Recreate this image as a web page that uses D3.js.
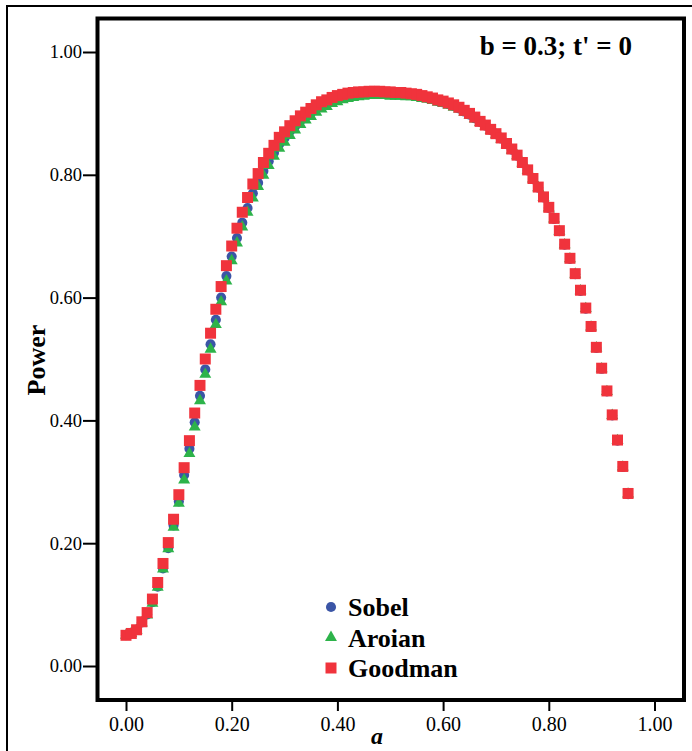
<html>
<head>
    <meta charset="utf-8">
    <title>Power: Sobel, Aroian, Goodman</title>
    <style>
        body { margin: 0; background: #fff; }
    </style>
</head>
<body>
    <script src="https://cdn.jsdelivr.net/npm/d3@7"></script>
    <script>
        var width = 692, height = 751;

        // a values (x)
        const aVals = [0.00, 0.01, 0.02, 0.03, 0.04, 0.05, 0.06, 0.07, 0.08, 0.09,
            0.10, 0.11, 0.12, 0.13, 0.14, 0.15, 0.16, 0.17, 0.18, 0.19,
            0.20, 0.21, 0.22, 0.23, 0.24, 0.25, 0.26, 0.27, 0.28, 0.29,
            0.30, 0.31, 0.32, 0.33, 0.34, 0.35, 0.36, 0.37, 0.38, 0.39,
            0.40, 0.41, 0.42, 0.43, 0.44, 0.45, 0.46, 0.47, 0.48, 0.49,
            0.50, 0.51, 0.52, 0.53, 0.54, 0.55, 0.56, 0.57, 0.58, 0.59,
            0.60, 0.61, 0.62, 0.63, 0.64, 0.65, 0.66, 0.67, 0.68, 0.69,
            0.70, 0.71, 0.72, 0.73, 0.74, 0.75, 0.76, 0.77, 0.78, 0.79,
            0.80, 0.81, 0.82, 0.83, 0.84, 0.85, 0.86, 0.87, 0.88, 0.89,
            0.90, 0.91, 0.92, 0.93, 0.94, 0.95];

        const sobel = [.050, .053, .059, .071, .084, .104, .129, .159, .192, .229,
            .268, .311, .354, .397, .440, .483, .524, .564, .600, .635,
            .667, .697, .722, .746, .770, .787, .806, .822, .836, .850,
            .860, .871, .879, .888, .895, .901, .908, .913, .917, .921,
            .925, .927, .929, .930, .931, .932, .933, .933, .933, .932,
            .932, .931, .931, .930, .930, .929, .927, .925, .923, .920,
            .918, .915, .912, .908, .903, .898, .892, .886, .880, .873,
            .866, .859, .850, .841, .831, .819, .807, .793, .779, .763,
            .746, .728, .708, .686, .663, .638, .611, .582, .552, .518,
            .484, .447, .408, .367, .324, .280];

        const aroian = [.050, .053, .058, .070, .083, .102, .128, .158, .191, .226,
            .265, .303, .346, .389, .432, .475, .516, .556, .593, .627,
            .660, .689, .715, .739, .762, .781, .799, .815, .830, .843,
            .853, .864, .873, .882, .889, .895, .902, .907, .911, .916,
            .919, .922, .924, .926, .927, .928, .929, .929, .929, .929,
            .928, .928, .928, .927, .927, .926, .924, .923, .921, .918,
            .916, .913, .910, .907, .902, .897, .891, .885, .879, .872,
            .865, .858, .849, .840, .831, .819, .807, .793, .779, .763,
            .746, .728, .708, .686, .663, .638, .611, .582, .552, .518,
            .484, .447, .408, .367, .324, .280];

        const goodman = [.050, .053, .059, .072, .087, .109, .136, .167, .201, .239,
            .279, .323, .367, .412, .457, .500, .542, .581, .618, .652,
            .684, .713, .739, .763, .785, .802, .820, .835, .848, .861,
            .870, .880, .888, .896, .902, .908, .914, .919, .922, .926,
            .929, .931, .933, .934, .935, .935, .936, .936, .936, .935,
            .935, .934, .934, .933, .932, .931, .929, .927, .925, .922,
            .920, .917, .914, .910, .905, .900, .894, .887, .881, .874,
            .867, .860, .851, .842, .832, .820, .808, .794, .780, .764,
            .747, .729, .709, .687, .664, .639, .612, .583, .553, .519,
            .485, .448, .409, .368, .325, .281];

        const seriesNames = ["Sobel", "Aroian", "Goodman"];
        const xTicks = [0, 0.2, 0.4, 0.6, 0.8, 1.0];
        const yTicks = [0, 0.2, 0.4, 0.6, 0.8, 1.0];

        const colors = ["#3b55a6", "#2db34a", "#f0333c"];
        const symbols = [d3.symbolCircle, d3.symbolTriangle, d3.symbolSquare];
        const sizes = [80, 62, 121];

        var svg = d3.select("body").append("svg")
            .attr("width", width)
            .attr("height", height);

        // outer thin border
        svg.append("rect")
            .attr("x", 7).attr("y", 6)
            .attr("width", 720).attr("height", 800)
            .attr("fill", "none")
            .attr("stroke", "#000")
            .attr("stroke-width", 2);

        var x = d3.scaleLinear().domain([0, 1]).range([126, 654.5]);
        var y = d3.scaleLinear().domain([0, 1]).range([666, 52]);

        // axes
        var xAxis = svg.append("g")
            .attr("transform", "translate(0,702)")
            .call(d3.axisBottom(x).tickValues(xTicks).tickFormat(d3.format(".2f"))
                .tickSize(9).tickPadding(6));
        xAxis.select(".domain").remove();
        xAxis.selectAll("line").attr("stroke", "#000").attr("stroke-width", 2);
        xAxis.selectAll("text")
            .attr("font-family", "'Liberation Serif', 'Times New Roman', serif")
            .attr("font-size", "20px")
            .attr("fill", "#000");

        var yAxis = svg.append("g")
            .attr("transform", "translate(96,0)")
            .call(d3.axisLeft(y).tickValues(yTicks).tickFormat(d3.format(".2f"))
                .tickSize(13).tickPadding(1));
        yAxis.select(".domain").remove();
        yAxis.selectAll("line").attr("stroke", "#000").attr("stroke-width", 2);
        yAxis.selectAll("text")
            .attr("font-family", "'Liberation Serif', 'Times New Roman', serif")
            .attr("font-size", "18.5px")
            .attr("fill", "#000");

        // plot frame
        svg.append("rect")
            .attr("x", 97.5).attr("y", 18.5)
            .attr("width", 684 - 97.5).attr("height", 700 - 18.5)
            .attr("fill", "none")
            .attr("stroke", "#000")
            .attr("stroke-width", 4);

        // points
        var all = [sobel, aroian, goodman];
        all.forEach(function (vals, k) {
            svg.append("g").selectAll("path")
                .data(vals)
                .enter()
                .append("path")
                .attr("d", d3.symbol().type(symbols[k]).size(sizes[k]))
                .attr("transform", (d, i) => "translate(" + x(aVals[i]) + "," + y(d) + ")")
                .attr("fill", colors[k]);
        });

        // legend
        var legend = svg.append("g");
        seriesNames.forEach(function (name, k) {
            var ly = 607 + k * 30.5;
            legend.append("path")
                .attr("d", d3.symbol().type(symbols[k]).size(sizes[k]))
                .attr("transform", "translate(331," + ly + ")")
                .attr("fill", colors[k]);
            legend.append("text")
                .attr("x", 348).attr("y", ly + 9)
                .attr("font-family", "'Liberation Serif', 'Times New Roman', serif")
                .attr("font-weight", "bold")
                .attr("font-size", "26px")
                .text(name);
        });

        // title
        svg.append("text")
            .attr("x", 632).attr("y", 55)
            .attr("text-anchor", "end")
            .attr("font-family", "'Liberation Serif', 'Times New Roman', serif")
            .attr("font-weight", "bold")
            .attr("font-size", "27px")
            .text("b = 0.3; t' = 0");

        // axis titles
        svg.append("text")
            .attr("transform", "translate(45,360) rotate(-90)")
            .attr("text-anchor", "middle")
            .attr("font-family", "'Liberation Serif', 'Times New Roman', serif")
            .attr("font-weight", "bold")
            .attr("font-size", "26px")
            .text("Power");

        svg.append("text")
            .attr("x", 377).attr("y", 744)
            .attr("text-anchor", "middle")
            .attr("font-family", "'Liberation Serif', 'Times New Roman', serif")
            .attr("font-weight", "bold")
            .attr("font-style", "italic")
            .attr("font-size", "24px")
            .text("a");
    </script>
</body>
</html>
